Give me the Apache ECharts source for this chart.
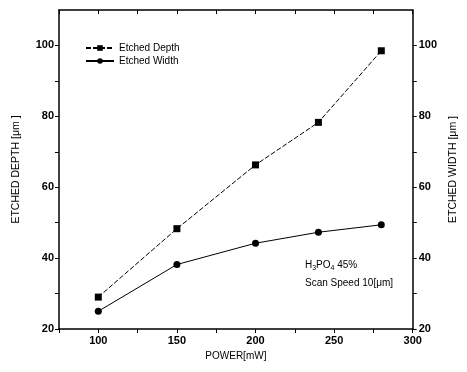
<!DOCTYPE html>
<html><head><meta charset="utf-8">
<script src="https://cdn.jsdelivr.net/npm/echarts@6/dist/echarts.min.js"></script>
<style>html,body{margin:0;padding:0;background:#fff}#c{width:467px;height:372px}</style>
</head><body><div id="c"></div>
<script>
var power = [100, 150, 200, 240, 280];
var etchedDepth = [29, 48.3, 66.3, 78.3, 98.5];
var etchedWidth = [25, 38.2, 44.2, 47.3, 49.4];
var xTicks = [100, 150, 200, 250, 300];
var yTicks = [20, 40, 60, 80, 100];

var font = 'Liberation Sans, Arial, sans-serif';
function pairs(x, y) { return x.map(function (v, i) { return [v, y[i]]; }); }
function xlab(v) { return xTicks.indexOf(v) >= 0 ? String(v) : ''; }
function ylab(v) { return yTicks.indexOf(v) >= 0 ? String(v) : ''; }

var chart = echarts.init(document.getElementById('c'));
var axLine = { show: true, lineStyle: { color: '#000', width: 1.5 } };
var lbl = { color: '#000', fontFamily: font, fontSize: 11, fontWeight: 'bold' };
chart.setOption({
  animation: false,
  backgroundColor: '#fff',
  grid: { left: 59, right: 48, top: 10, bottom: 43 },
  legend: {
    left: 80, top: 38, orient: 'vertical', itemGap: 3, itemWidth: 28, itemHeight: 7,
    textStyle: { color: '#000', fontFamily: font, fontSize: 10 },
    data: ['Etched Depth', 'Etched Width']
  },
  xAxis: [{
    type: 'value', min: 75, max: 300, interval: 25, position: 'bottom',
    name: 'POWER[mW]', nameLocation: 'middle', nameGap: 22,
    nameTextStyle: { color: '#000', fontFamily: font, fontSize: 10 },
    axisLine: axLine, splitLine: { show: false },
    axisTick: { show: true, length: 4, lineStyle: { color: '#000' } },
    axisLabel: Object.assign({ formatter: xlab, margin: 6 }, lbl)
  }, {
    type: 'value', min: 75, max: 300, interval: 25, position: 'top',
    axisLine: axLine, splitLine: { show: false },
    axisTick: { show: true, inside: true, length: 4, lineStyle: { color: '#000' } },
    axisLabel: { show: false }
  }],
  yAxis: [{
    type: 'value', min: 20, max: 110, interval: 10, position: 'left',
    name: 'ETCHED DEPTH [\u03bcm ]', nameLocation: 'middle', nameGap: 37, nameRotate: 90,
    nameTextStyle: { color: '#000', fontFamily: font, fontSize: 10.5 },
    axisLine: axLine, splitLine: { show: false },
    axisTick: { show: true, length: 4, lineStyle: { color: '#000' } },
    axisLabel: Object.assign({ formatter: ylab, margin: 5, showMaxLabel: false }, lbl)
  }, {
    type: 'value', min: 20, max: 110, interval: 10, position: 'right',
    name: 'ETCHED WIDTH [\u03bcm ]', nameLocation: 'middle', nameGap: 34, nameRotate: 90,
    nameTextStyle: { color: '#000', fontFamily: font, fontSize: 10.5 },
    axisLine: axLine, splitLine: { show: false },
    axisTick: { show: true, length: 4, lineStyle: { color: '#000' } },
    axisLabel: Object.assign({ formatter: ylab, margin: 6, showMaxLabel: false }, lbl)
  }],
  series: [{
    name: 'Etched Depth', type: 'line', xAxisIndex: 0, yAxisIndex: 0,
    data: pairs(power, etchedDepth), symbol: 'rect', symbolSize: 7,
    itemStyle: { color: '#000' }, lineStyle: { color: '#000', width: 1, type: [5, 2] }
  }, {
    name: 'Etched Width', type: 'line', xAxisIndex: 0, yAxisIndex: 1,
    data: pairs(power, etchedWidth), symbol: 'circle', symbolSize: 7,
    itemStyle: { color: '#000' }, lineStyle: { color: '#000', width: 1 }
  }],
  graphic: [{
    type: 'text', left: 305, top: 260,
    style: { rich: { a: { fontFamily: font, fontSize: 10, fill: '#000' }, s: { fontFamily: font, fontSize: 7, fill: '#000', verticalAlign: 'bottom', padding: [6, 0, 0, 0] } },
      text: '{a|H}{s|3}{a|PO}{s|4}{a| 45%}' }
  }, {
    type: 'text', left: 305, top: 278,
    style: { text: 'Scan Speed 10[\u03bcm]', fontFamily: font, fontSize: 10, fill: '#000' }
  }]
});
</script></body></html>
